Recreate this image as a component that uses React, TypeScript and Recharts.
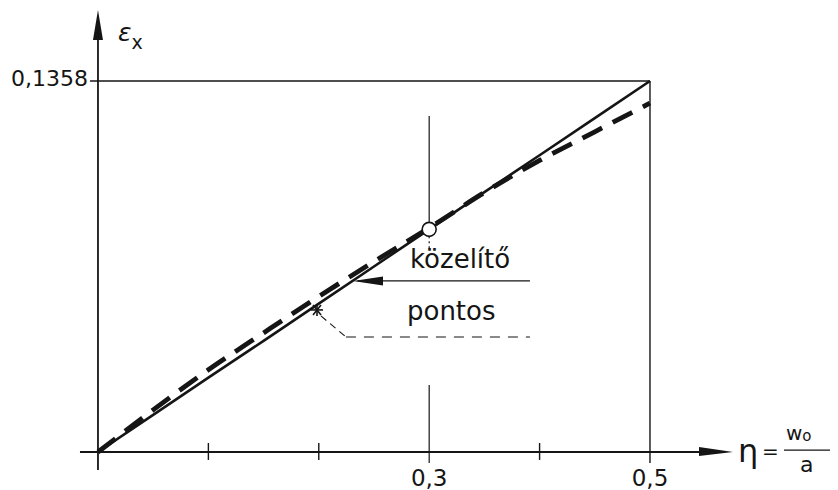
import { LineChart, Line, XAxis, YAxis, ReferenceLine, ReferenceDot } from "recharts";

// η = w0 / a
const eta = [0, 0.05, 0.1, 0.15, 0.2, 0.25, 0.3, 0.35, 0.4, 0.45, 0.5];
// közelítő (linear approximation)
const approx = [0, 0.0136, 0.0272, 0.0407, 0.0543, 0.0679, 0.0815, 0.0951, 0.1086, 0.1222, 0.1358];
// pontos (exact)
const exact = [0, 0.0154, 0.0301, 0.0436, 0.0569, 0.0697, 0.082, 0.095, 0.1067, 0.1172, 0.1277];

const minorTicks = [0.1, 0.2, 0.4];
const labeledTicks = [0.3, 0.5];
const labeledTickText = ["0,3", "0,5"];
const epsMax = 0.1358;
const epsMaxText = "0,1358";

const data = eta.map((e, i) => ({ eta: e, approx: approx[i], exact: exact[i] }));

const INK = "#151515";
const FONT = "'DejaVu Sans', sans-serif";

type P = { cx?: number; cy?: number };

const textAt =
  (content: React.ReactNode, size: number, anchor: "start" | "middle" | "end" = "start") =>
  (p: P) =>
    (
      <text x={p.cx} y={p.cy} fontSize={size} fontFamily={FONT} fill={INK} textAnchor={anchor}>
        {content}
      </text>
    );

const seg = (x1: number, y1: number, x2: number, y2: number, w = 1.5, dash?: string, key?: string) => (
  <ReferenceLine
    key={key}
    segment={[
      { x: x1, y: y1 },
      { x: x2, y: y2 },
    ]}
    stroke={INK}
    strokeWidth={w}
    strokeDasharray={dash}
  />
);

export default function App() {
  return (
    <div style={{ background: "#fff", width: 830, height: 482 }}>
      <LineChart width={830} height={482} data={data} margin={{ top: 0, right: 0, bottom: 0, left: 0 }}>
        <XAxis type="number" dataKey="eta" domain={[-0.0815, 0.6703]} allowDataOverflow hide />
        <YAxis type="number" domain={[-0.0139, 0.1625]} allowDataOverflow hide />

        {/* axes */}
        {seg(-0.0163, 0, 0.55, 0, 1.8)}
        {seg(0, -0.0066, 0, 0.152, 1.8)}
        <ReferenceDot
          x={0.5752}
          y={0}
          r={0}
          shape={(p: P) => (
            <polygon points={`${p.cx},${p.cy} ${p.cx! - 34},${p.cy! - 5} ${p.cx! - 34},${p.cy! + 4}`} fill={INK} />
          )}
        />
        <ReferenceDot
          x={0}
          y={0.1618}
          r={0}
          shape={(p: P) => (
            <polygon points={`${p.cx},${p.cy} ${p.cx! - 5},${p.cy! + 30} ${p.cx! + 5},${p.cy! + 30}`} fill={INK} />
          )}
        />

        {/* frame at ε max and η = 0.5 */}
        {seg(-0.0072, epsMax, 0.5, epsMax, 1.4)}
        {seg(0.5, -0.004, 0.5, epsMax, 1.4)}

        {/* η = 0.3 guide */}
        {seg(0.3, 0.0815, 0.3, 0.123, 1.2)}
        {seg(0.3, 0.079, 0.3, 0.0745, 1.2, "2 3")}
        {seg(0.3, -0.004, 0.3, 0.0245, 1.2)}

        {minorTicks.map((t) => seg(t, -0.0029, t, 0.0033, 1.4, undefined, `t${t}`))}

        <Line
          dataKey="approx"
          type="linear"
          stroke={INK}
          strokeWidth={2.6}
          dot={false}
          isAnimationActive={false}
        />
        <Line
          dataKey="exact"
          type="monotone"
          stroke={INK}
          strokeWidth={4.8}
          strokeDasharray="22 12"
          dot={false}
          isAnimationActive={false}
        />

        <ReferenceDot x={0.3} y={0.0815} r={7} fill="#fff" stroke={INK} strokeWidth={1.6} />

        {/* közelítő pointer */}
        {seg(0.235, 0.0626, 0.3913, 0.0626, 1.3)}
        <ReferenceDot
          x={0.231}
          y={0.0626}
          r={0}
          shape={(p: P) => (
            <polygon points={`${p.cx},${p.cy} ${p.cx! + 30},${p.cy! - 4.5} ${p.cx! + 30},${p.cy! + 4.5}`} fill={INK} />
          )}
        />

        {/* pontos pointer */}
        <ReferenceDot
          x={0.1984}
          y={0.052}
          r={0}
          shape={(p: P) => (
            <g stroke={INK} strokeWidth={1.6}>
              <line x1={p.cx! - 6} y1={p.cy!} x2={p.cx! + 6} y2={p.cy!} />
              <line x1={p.cx! - 4} y1={p.cy! - 5} x2={p.cx! + 4} y2={p.cy! + 5} />
              <line x1={p.cx! + 4} y1={p.cy! - 5} x2={p.cx! - 4} y2={p.cy! + 5} />
              <line x1={p.cx!} y1={p.cy! - 6} x2={p.cx!} y2={p.cy! + 6} />
            </g>
          )}
        />
        {seg(0.202, 0.0498, 0.2246, 0.0421, 1.1, "7 5")}
        {seg(0.2246, 0.0421, 0.3913, 0.0421, 1.1, "10 8")}

        {/* texts */}
        <ReferenceDot x={0.2826} y={0.0673} r={0} shape={textAt("közelítő", 26)} />
        <ReferenceDot x={0.2799} y={0.0483} r={0} shape={textAt("pontos", 26)} />
        <ReferenceDot x={-0.009} y={0.134} r={0} shape={textAt(epsMaxText, 22, "end")} />
        {labeledTicks.map((t, i) => (
          <ReferenceDot key={t} x={t} y={-0.0124} r={0} shape={textAt(labeledTickText[i], 23, "middle")} />
        ))}
        <ReferenceDot
          x={0.0181}
          y={0.1504}
          r={0}
          shape={textAt(
            <>
              <tspan fontStyle="italic">ε</tspan>
              <tspan fontSize={19} dy={8}>
                x
              </tspan>
            </>,
            25
          )}
        />
        <ReferenceDot x={0.5797} y={-0.0037} r={0} shape={textAt("η", 32)} />
        <ReferenceDot x={0.6014} y={-0.0022} r={0} shape={textAt("=", 20)} />
        <ReferenceDot
          x={0.6232}
          y={0.0044}
          r={0}
          shape={textAt(
            <>
              <tspan>w</tspan>
              <tspan fontSize={15} dy={1}>
                o
              </tspan>
            </>,
            20
          )}
        />
        {seg(0.6214, 0.0007, 0.6694, 0.0007, 1.3)}
        <ReferenceDot x={0.6359} y={-0.0073} r={0} shape={textAt("a", 22)} />
      </LineChart>
    </div>
  );
}
